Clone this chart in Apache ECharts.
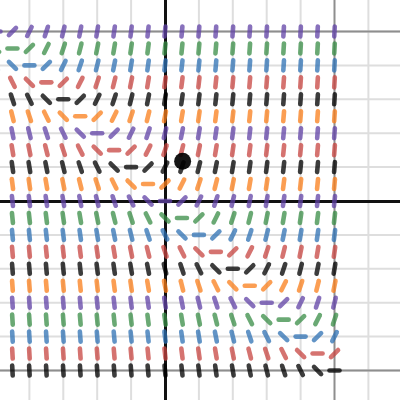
<!DOCTYPE html>
<html>
<head>
<meta charset="utf-8">
<script src="https://cdn.jsdelivr.net/npm/echarts@6/dist/echarts.min.js"></script>
<style>html,body{margin:0;padding:0;background:#fff}#chart{width:400px;height:400px}</style>
</head>
<body>
<div id="chart"></div>
<script>
// Sample positions of the slope marks
const xCols = [-5,-4.5,-4,-3.5,-3,-2.5,-2,-1.5,-1,-0.5,0,0.5,1,1.5,2,2.5,3,3.5,4,4.5,5];
const yRows = [5,4.5,4,3.5,3,2.5,2,1.5,1,0.5,0,-0.5,-1,-1.5,-2,-2.5,-3,-3.5,-4,-4.5,-5];
// Colour of each row, top to bottom
const rowColors = ['purple','green','blue','red','black','orange','purple','red','black','orange','purple',
                   'green','blue','red','black','orange','purple','green','blue','red','black'];
// Slope read for each value of x+y (marks along a diagonal share the same slope)
const slopeSums = [-10,-9.5,-9,-8.5,-8,-7.5,-7,-6.5,-6,-5.5,-5,-4.5,-4,-3.5,-3,-2.5,-2,-1.5,-1,-0.5,0,
                   0.5,1,1.5,2,2.5,3,3.5,4,4.5,5,5.5,6,6.5,7,7.5,8,8.5,9,9.5,10];
const slopeValues = [-20,-19,-18,-17,-16,-15,-14,-13,-12,-11,-10,-9,-8,-7,-6,-5,-4,-3,-2,-1,0,
                     1,2,3,4,5,6,7,8,9,10,11,12,13,14,15,16,17,18,19,20];
// Highlighted point
const pointXY = [0.52, 1.17];
// Grid lines (minor every unit, darker major lines)
const minorX = [-4,-3,-2,-1,1,2,3,4,6];
const minorY = [-5,-4,-3,-2,-1,1,2,3,4,5];
const majorX = [5];
const majorY = [5, -5];
// Visible window
const xRange = [-4.867, 6.932];
const yRange = [-5.870, 5.929];

const palette = {
  purple: 'rgba(96,66,166,0.75)',
  green: 'rgba(56,140,70,0.75)',
  blue: 'rgba(45,112,179,0.75)',
  red: 'rgba(199,68,64,0.75)',
  black: 'rgba(0,0,0,0.76)',
  orange: 'rgba(250,126,25,0.75)'
};

function slopeAt(s) {
  let best = 0, bd = Infinity;
  for (let i = 0; i < slopeSums.length; i++) {
    const d = Math.abs(slopeSums[i] - s);
    if (d < bd) { bd = d; best = i; }
  }
  return slopeValues[best];
}

const HALF = 5;
function markRender(color) {
  return function (params, api) {
    const x = api.value(0), y = api.value(1), m = api.value(2);
    const c = api.coord([x, y]);
    const c2 = api.coord([x + 1, y + m]);
    let dx = c2[0] - c[0], dy = c2[1] - c[1];
    const len = Math.sqrt(dx * dx + dy * dy);
    dx /= len; dy /= len;
    return {
      type: 'line',
      shape: { x1: c[0] - dx * HALF, y1: c[1] - dy * HALF, x2: c[0] + dx * HALF, y2: c[1] + dy * HALF },
      style: { stroke: color, lineWidth: 4.6, lineCap: 'round' }
    };
  };
}

function gridSeries(list, color, width, z) {
  return {
    type: 'custom',
    z: z,
    silent: true,
    clip: false,
    data: list.map((d, i) => [i]),
    renderItem: function (params, api) {
      const d = list[params.dataIndex];
      const cs = params.coordSys;
      if (d[0] === 'x') {
        const p = api.coord([d[1], 0]);
        return { type: 'line', shape: { x1: p[0], y1: cs.y, x2: p[0], y2: cs.y + cs.height },
          style: { stroke: color, lineWidth: width } };
      }
      const p = api.coord([0, d[1]]);
      return { type: 'line', shape: { x1: cs.x, y1: p[1], x2: cs.x + cs.width, y2: p[1] },
        style: { stroke: color, lineWidth: width } };
    }
  };
}

const series = [];
series.push(gridSeries(minorX.map(v => ['x', v]).concat(minorY.map(v => ['y', v])), '#dedede', 2, 0));
series.push(gridSeries(majorX.map(v => ['x', v]).concat(majorY.map(v => ['y', v])), '#8e8e8e', 2, 0));

yRows.forEach((y, ri) => {
  const color = palette[rowColors[ri]];
  series.push({
    type: 'custom',
    z: 3,
    silent: true,
    data: xCols.map(x => [x, y, slopeAt(x + y)]),
    renderItem: markRender(color)
  });
});

series.push({
  type: 'scatter',
  z: 10,
  symbolSize: 17,
  itemStyle: { color: '#000', opacity: 0.92 },
  data: [pointXY]
});

const chart = echarts.init(document.getElementById('chart'), null, { renderer: 'canvas' });
const axisCommon = {
  type: 'value',
  axisLabel: { show: false },
  axisTick: { show: false },
  axisLine: { show: true, onZero: true, lineStyle: { color: '#111', width: 3 } },
  splitLine: { show: false }
};
chart.setOption({
  animation: false,
  backgroundColor: '#fff',
  grid: { left: 0, right: 0, top: 0, bottom: 0, containLabel: false },
  xAxis: Object.assign({}, axisCommon, { min: xRange[0], max: xRange[1] }),
  yAxis: Object.assign({}, axisCommon, { min: yRange[0], max: yRange[1] }),
  series: series
});
</script>
</body>
</html>
